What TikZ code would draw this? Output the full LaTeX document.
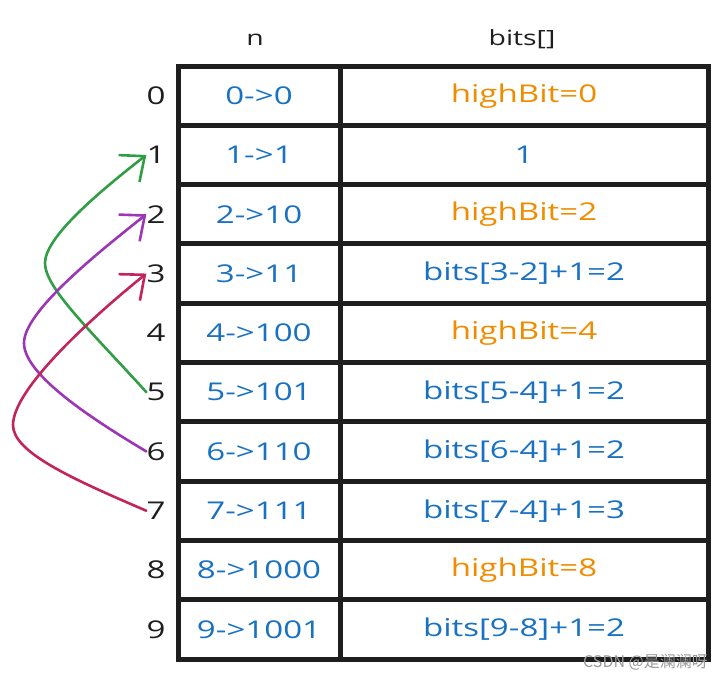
\documentclass[tikz,border=0pt]{standalone}
\usepackage{fontspec}
\setmainfont{Open Sans}[FakeStretch=1.35]
\newfontfamily\cjkfont{Noto Sans CJK SC}
\usetikzlibrary{arrows.meta}
\definecolor{exblue}{HTML}{1971C2}
\definecolor{exorange}{HTML}{F08C00}
\definecolor{exgreen}{HTML}{2F9E44}
\definecolor{expurple}{HTML}{9C36B5}
\definecolor{exred}{HTML}{C2255C}
\definecolor{exblack}{HTML}{1E1E1E}
\begin{document}
\begin{tikzpicture}[x=1pt,y=-1pt,
  cell/.style={draw=exblack,line width=5pt,minimum height=59.3pt,inner sep=0pt,outer sep=0pt,font=\fontsize{24.5}{28}\selectfont},
  ncell/.style={cell,minimum width=162pt,text=exblue},
  bcell/.style={cell,minimum width=368pt,text=exblue},
  hb/.style={text=exorange},
  rowlbl/.style={font=\fontsize{24.5}{28}\selectfont,text=exblack,inner sep=0pt},
  hdr/.style={font=\fontsize{21}{26}\selectfont,text=exblack},
  curve/.style={line width=2.6pt,line cap=round,-{Straight Barb[length=20pt,width=34pt,line width=2.6pt]}}
]
\useasboundingbox (0,0) rectangle (725,681);
\foreach \i/\nt/\bt/\st in {0/{0->0}/{highBit=0}/hb,1/{1->1}/{1}/,2/{2->10}/{highBit=2}/hb,3/{3->11}/{bits[3-2]+1=2}/,4/{4->100}/{highBit=4}/hb,5/{5->101}/{bits[5-4]+1=2}/,6/{6->110}/{bits[6-4]+1=2}/,7/{7->111}/{bits[7-4]+1=3}/,8/{8->1000}/{highBit=8}/hb,9/{9->1001}/{bits[9-8]+1=2}/}{
  \node[ncell] (n\i) at (259,{95.65+59.3*\i}) {\nt};
  \node[bcell,\st] (b\i) at (524,{95.65+59.3*\i}) {\bt};
  \node[rowlbl] (l\i) at (156,{95.65+59.3*\i}) {\i};
}
\node[hdr] (hn) at (255,40) {n};
\node[hdr] (hbits) at (522,39) {bits[]};
% arrows
\coordinate (gc) at (45,263);
\coordinate (pc) at (24,343);
\coordinate (rc) at (13,425);
\draw[curve,exgreen] (l5.west) .. controls (90,330) and (45,288) .. (gc) .. controls (45,238) and (95,195) .. (l1.west);
\draw[curve,expurple] (l6.west) .. controls (80,412) and (24,372) .. (pc) .. controls (24,312) and (95,255) .. (l2.west);
\draw[curve,exred] (l7.west) .. controls (70,478) and (13,452) .. (rc) .. controls (13,388) and (95,315) .. (l3.west);
\node[text=gray!80,font=\cjkfont\fontsize{16}{18}\selectfont,anchor=east,inner sep=0pt] (wm) at (708,662) {CSDN @是澜澜呀};
\end{tikzpicture}
\end{document}
